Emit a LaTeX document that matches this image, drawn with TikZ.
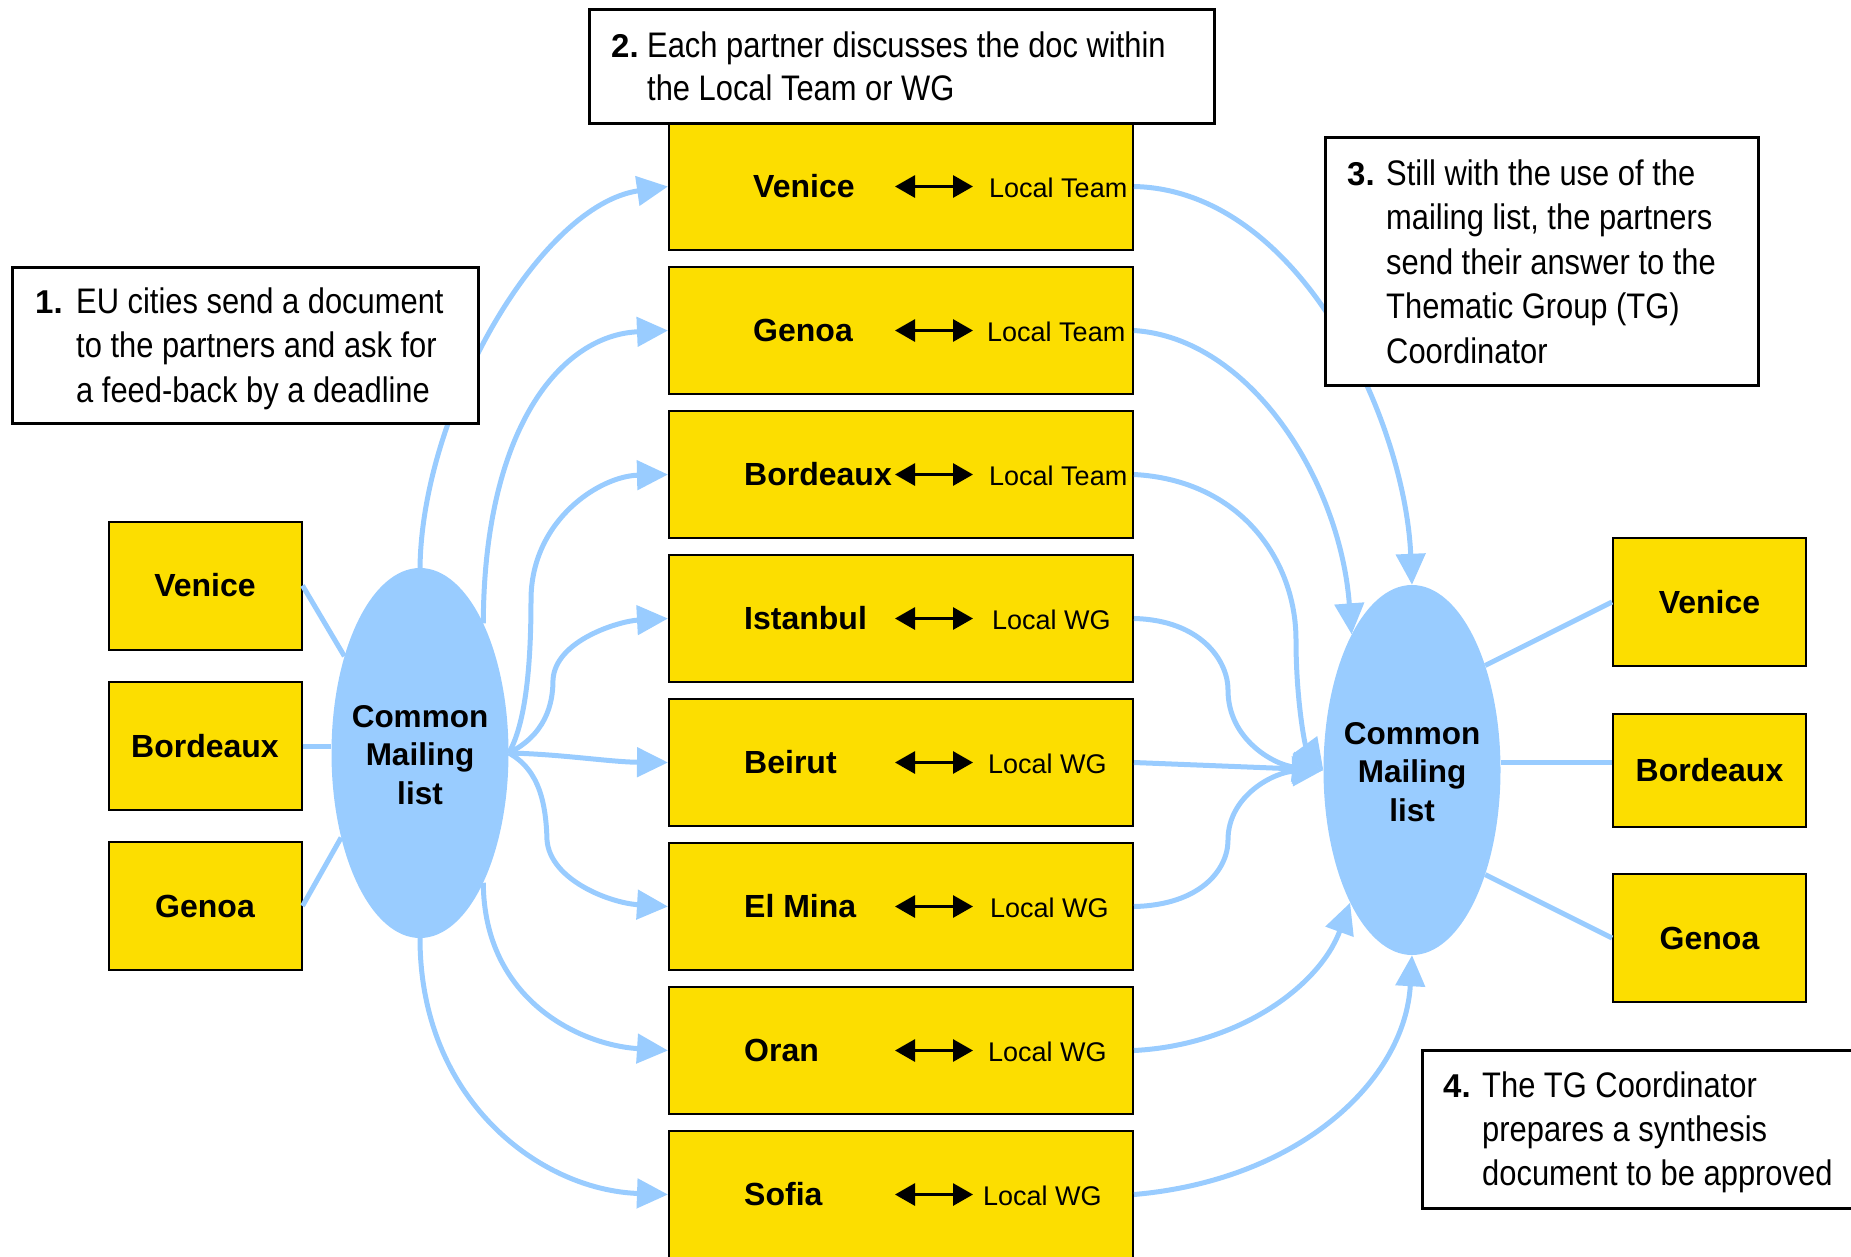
\documentclass[tikz,border=0pt]{standalone}
\usepackage{fontspec}
\setmainfont{Liberation Sans}
\newfontfamily\narrowfont[FakeStretch=0.87]{Liberation Sans}
\usetikzlibrary{arrows.meta,shapes.geometric}
\definecolor{boxyellow}{RGB}{252,222,0}
\definecolor{mailblue}{RGB}{153,204,255}
\newcommand\cofont{\narrowfont\fontsize{35.5bp}{44.6bp}\selectfont}
\newcommand\numfont{\rmfamily\bfseries\fontsize{33bp}{44.6bp}\selectfont}
\begin{document}
\begin{tikzpicture}[x=1bp,y=-1bp,
  cbox/.style={draw=black, line width=2bp, fill=boxyellow, inner sep=0,
    font=\bfseries\fontsize{32bp}{38bp}\selectfont},
  midbox/.style={cbox, minimum width=464bp, minimum height=127.5bp},
  sidebox/.style={cbox, minimum width=193bp, minimum height=128bp},
  cityname/.style={anchor=base west, inner sep=0, font=\bfseries\fontsize{32bp}{38bp}\selectfont},
  team/.style={anchor=base west, inner sep=0, font=\fontsize{27bp}{32bp}\selectfont},
  dbl/.style={line width=3bp, {Triangle[length=20bp,width=22bp]}-{Triangle[length=20bp,width=22bp]}},
  mail/.style={ellipse, fill=mailblue, minimum width=177bp, minimum height=370bp, inner sep=0},
  mailtext/.style={align=center, font=\bfseries\fontsize{31.5bp}{38.4bp}\selectfont, inner sep=0},
  flow/.style={draw=mailblue, line width=5bp, -{Triangle[length=31bp,width=29bp]}},
  link/.style={draw=mailblue, line width=5bp},
  callout/.style={draw=black, line width=3bp, fill=white, inner sep=0},
  cotext/.style={anchor=base west, inner sep=0}]
\useasboundingbox (0,0) rectangle (1851,1256);
\clip (0,0) rectangle (1851,1256);

% left partner boxes
\node[sidebox] (lv) at (205,585.5) {Venice};
\node[sidebox] (lb) at (205,746) {Bordeaux};
\node[sidebox] (lg) at (205,906) {Genoa};

% right partner boxes
\node[sidebox] (rv) at (1709.5,602) {Venice};
\node[sidebox, minimum height=113bp] (rb) at (1709.5,770.5) {Bordeaux};
\node[sidebox] (rg) at (1709.5,938) {Genoa};

% mailing lists
\node[mail] (L) at (420,753) {};
\node[mailtext] (Lt) at (420,755) {Common\\Mailing\\list};
\node[mail] (R) at (1412,770) {};
\node[mailtext] (Rt) at (1412,772) {Common\\Mailing\\list};

% middle boxes
\node[midbox] (mv) at (901,186.5) {};
\node[midbox] (mg) at (901,330.5) {};
\node[midbox] (mb) at (901,474.5) {};
\node[midbox] (mi) at (901,618.5) {};
\node[midbox] (mbe) at (901,762.5) {};
\node[midbox] (me) at (901,906.5) {};
\node[midbox] (mo) at (901,1050.5) {};
\node[midbox] (ms) at (901,1194.5) {};

\node[cityname] (nv) at (753,197.5) {Venice};
\node[cityname] (ng) at (753,341.5) {Genoa};
\node[cityname] (nb) at (744,485.5) {Bordeaux};
\node[cityname] (ni) at (744,629.5) {Istanbul};
\node[cityname] (nbe) at (744,773.5) {Beirut};
\node[cityname] (ne) at (744,917.5) {El Mina};
\node[cityname] (no) at (744,1061.5) {Oran};
\node[cityname] (ns) at (744,1205.5) {Sofia};

\node[team] (tv) at (989,197.5) {Local Team};
\node[team] (tg) at (987,341.5) {Local Team};
\node[team] (tb) at (989,485.5) {Local Team};
\node[team] (ti) at (992,629.5) {Local WG};
\node[team] (tbe) at (988,773.5) {Local WG};
\node[team] (te) at (990,917.5) {Local WG};
\node[team] (to) at (988,1061.5) {Local WG};
\node[team] (ts) at (983,1205.5) {Local WG};

\foreach \b in {mv,mg,mb,mi,mbe,me,mo,ms}
  \draw[dbl] ([xshift=-6bp]\b.center) -- ([xshift=72bp]\b.center);

% links partner boxes <-> mailing lists
\draw[link] (lv.east) -- (L.128);
\draw[link] (lb.east) -- (lb.east -| L.west);
\draw[link] (lg.east) -- (L.227);
\draw[link] (R.55) -- (rv.west);
\path ([yshift=8bp]rb.west) coordinate (rbl);
\draw[link] (rbl) -- (rbl -| R.east);
\draw[link] (R.305) -- (rg.west);

% from left mailing list to partners
\draw[flow] (L.north) .. controls (422,410) and (540,205) .. (mv.west);
\draw[flow] (L.64) .. controls (484,430) and (560,335) .. (mg.west);
\draw[flow] (L.east) .. controls (528,720) and (531,650) .. (531,600) .. controls (531,520) and (600,476) .. (mb.west);
\draw[flow] (L.east) .. controls (545,735) and (553,705) .. (553,680) .. controls (555,640) and (620,621) .. (mi.west);
\draw[flow] (L.east) .. controls (560,754) and (610,762) .. (mbe.west);
\draw[flow] (L.east) .. controls (540,770) and (546,805) .. (547,840) .. controls (550,880) and (610,903) .. (me.west);
\draw[flow] (L.296) .. controls (484,1000) and (580,1045) .. (mo.west);
\draw[flow] (L.south) .. controls (420,1100) and (540,1190) .. (ms.west);

% from partners to right mailing list
\draw[flow] (mv.east) .. controls (1300,190) and (1405,420) .. (R.north);
\draw[flow] (mg.east) .. controls (1250,338) and (1340,480) .. (R.114);
\draw[flow] (mb.east) .. controls (1240,480) and (1296,560) .. (1296,640) .. controls (1296,700) and (1305,745) .. (R.west);
\draw[flow] (mi.east) .. controls (1200,620) and (1228,660) .. (1228,690) .. controls (1228,740) and (1275,765) .. (R.west);
\draw[flow] (mbe.east) -- (R.west);
\draw[flow] (me.east) .. controls (1200,905) and (1228,870) .. (1228,840) .. controls (1228,795) and (1275,772) .. (R.west);
\draw[flow] (mo.east) .. controls (1240,1045) and (1320,985) .. (R.245);
\draw[flow] (ms.east) .. controls (1300,1180) and (1405,1080) .. (R.south);

% callouts
\node[callout, minimum width=465bp, minimum height=156bp] (c1) at (245.5,345) {};
\node[cotext] (c1t) at (35,313) {\cofont\begin{tabular}[t]{@{}p{41bp}@{}l@{}}\numfont 1. & EU cities send a document\\ & to the partners and ask for\\ & a feed-back by a deadline\end{tabular}};

\node[callout, minimum width=625bp, minimum height=114bp] (c2) at (901.5,66) {};
\node[cotext] (c2t) at (611,57) {\cofont\fontsize{35.5bp}{43bp}\selectfont\begin{tabular}[t]{@{}p{36bp}@{}l@{}}\numfont 2. & Each partner discusses the doc within\\ & the Local Team or WG\end{tabular}};

\node[callout, minimum width=433bp, minimum height=248bp] (c3) at (1541.5,261) {};
\node[cotext] (c3t) at (1347,185) {\cofont\fontsize{35.5bp}{44.5bp}\selectfont\begin{tabular}[t]{@{}p{39bp}@{}l@{}}\numfont 3. & Still with the use of the\\ & mailing list, the partners\\ & send their answer to the\\ & Thematic Group (TG)\\ & Coordinator\end{tabular}};

\node[callout, minimum width=478bp, minimum height=158bp] (c4) at (1661,1129) {};
\node[cotext] (c4t) at (1443,1097) {\cofont\fontsize{35.5bp}{44bp}\selectfont\begin{tabular}[t]{@{}p{39bp}@{}l@{}}\numfont 4. & The TG Coordinator\\ & prepares a synthesis\\ & document to be approved\end{tabular}};
\end{tikzpicture}
\end{document}
